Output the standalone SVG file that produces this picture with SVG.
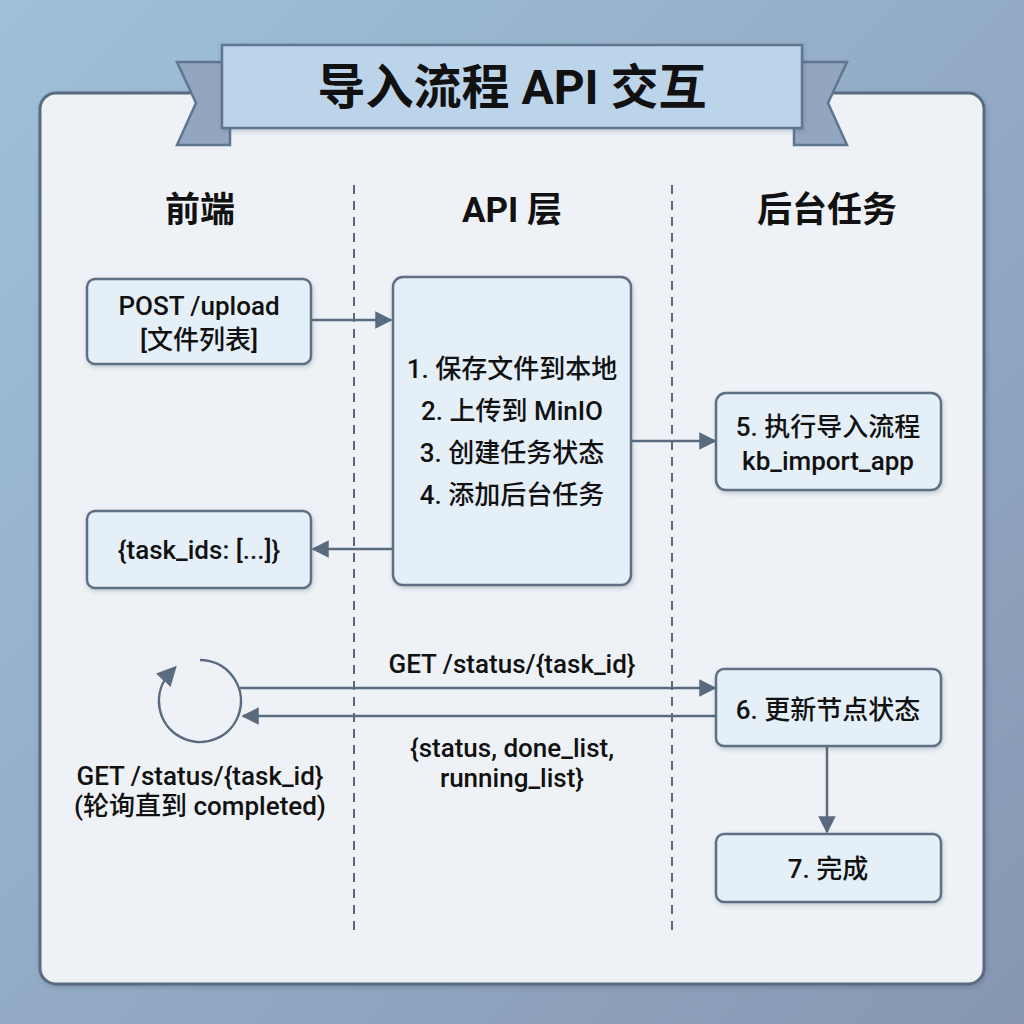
<svg xmlns="http://www.w3.org/2000/svg" width="1024" height="1024" viewBox="0 0 1024 1024">
<defs>
<linearGradient id="bg" x1="0" y1="0" x2="1" y2="1">
<stop offset="0" stop-color="#9fc0da"/>
<stop offset="1" stop-color="#8797b2"/>
</linearGradient>
<filter id="sh" x="-10%" y="-10%" width="130%" height="130%">
<feDropShadow dx="1" dy="2" stdDeviation="2" flood-color="#33445a" flood-opacity="0.25"/>
</filter>
<marker id="ah" viewBox="0 0 10 10" refX="9" refY="5" markerWidth="7" markerHeight="7" markerUnits="strokeWidth" orient="auto">
<path d="M0,0 L10,5 L0,10 z" fill="#5a6b80"/>
</marker>
<marker id="ah2" viewBox="0 0 10 10" refX="5" refY="5" markerWidth="8" markerHeight="8" markerUnits="strokeWidth" orient="auto">
<path d="M0,0 L10,5 L0,10 z" fill="#5a6b80"/>
</marker>
</defs>
<style>
.box{fill:#e5eff8;stroke:#5f7085;stroke-width:2.5;filter:url(#sh)}
.t{font-family:Roboto,"Noto Sans CJK SC",sans-serif;font-size:26px;font-weight:500;fill:#111;text-anchor:middle}
.h{font-family:Roboto,"Noto Sans CJK SC",sans-serif;font-size:35px;font-weight:bold;fill:#111;text-anchor:middle}
.c{fill:none;stroke:#5a6b80;stroke-width:2.5}
.dash{stroke:#5a6b80;stroke-width:2;stroke-dasharray:9 7}
</style>
<rect x="0" y="0" width="1024" height="1024" fill="url(#bg)"/>
<rect x="40" y="93" width="944" height="891" rx="16" fill="#eef2f6" stroke="#5a6b80" stroke-width="3" filter="url(#sh)"/>
<g id="title">
<polygon points="177,62 230,62 230,145 177,145 196,103" fill="#93a6c0" stroke="#5f7590" stroke-width="2.5"/>
<polygon points="847,62 794,62 794,145 847,145 828,103" fill="#93a6c0" stroke="#5f7590" stroke-width="2.5"/>
<rect x="222" y="45" width="580" height="83" fill="#bcd4ea" stroke="#5f7590" stroke-width="2.5" filter="url(#sh)"/>
<text x="512" y="104" font-family="Roboto,'Noto Sans CJK SC',sans-serif" font-size="48" font-weight="bold" fill="#111" text-anchor="middle">导入流程 API 交互</text>
</g>
<g id="headers">
<text class="h" x="200" y="222">前端</text>
<text class="h" x="512" y="222">API 层</text>
<text class="h" x="827" y="222">后台任务</text>
</g>
<g id="lanes">
<line class="dash" x1="354" y1="185" x2="354" y2="935"/>
<line class="dash" x1="672" y1="185" x2="672" y2="935"/>
</g>
<g id="connectors">
<line class="c" x1="311" y1="320" x2="391" y2="320" marker-end="url(#ah)"/>
<line class="c" x1="631" y1="441" x2="715" y2="441" marker-end="url(#ah)"/>
<line class="c" x1="393" y1="549" x2="313" y2="549" marker-end="url(#ah)"/>
<line class="c" x1="240" y1="688" x2="715" y2="688" marker-end="url(#ah)"/>
<line class="c" x1="716" y1="716" x2="243" y2="716" marker-end="url(#ah)"/>
<line class="c" x1="827" y1="746" x2="827" y2="832" marker-end="url(#ah)"/>
<text class="t" x="512" y="673">GET /status/{task_id}</text>
<text class="t" x="512" y="757">{status, done_list,</text>
<text class="t" x="512" y="787">running_list}</text>
</g>
<g id="n-upload">
<rect class="box" x="87" y="279" width="224" height="85" rx="8"/>
<text class="t" x="199" y="315">POST /upload</text>
<text class="t" x="199" y="349">[文件列表]</text>
</g>
<g id="n-api">
<rect class="box" x="393" y="277" width="238" height="308" rx="10"/>
<text class="t" x="512" y="378">1. 保存文件到本地</text>
<text class="t" x="512" y="420">2. 上传到 MinIO</text>
<text class="t" x="512" y="462">3. 创建任务状态</text>
<text class="t" x="512" y="504">4. 添加后台任务</text>
</g>
<g id="n-exec">
<rect class="box" x="716" y="393" width="225" height="97" rx="10"/>
<text class="t" x="828" y="436">5. 执行导入流程</text>
<text class="t" x="828" y="470">kb_import_app</text>
</g>
<g id="n-taskids">
<rect class="box" x="87" y="511" width="224" height="77" rx="8"/>
<text class="t" x="199" y="559">{task_ids: [...]}</text>
</g>
<g id="n-update">
<rect class="box" x="716" y="669" width="225" height="77" rx="8"/>
<text class="t" x="828" y="719">6. 更新节点状态</text>
</g>
<g id="n-done">
<rect class="box" x="716" y="834" width="225" height="68" rx="8"/>
<text class="t" x="828" y="878">7. 完成</text>
</g>
<g id="n-poll">
<path class="c" d="M 200 660 A 41 41 0 1 1 170 673" marker-end="url(#ah2)"/>
<text class="t" x="200" y="785">GET /status/{task_id}</text>
<text class="t" x="200" y="815">(轮询直到 completed)</text>
</g>
</svg>
